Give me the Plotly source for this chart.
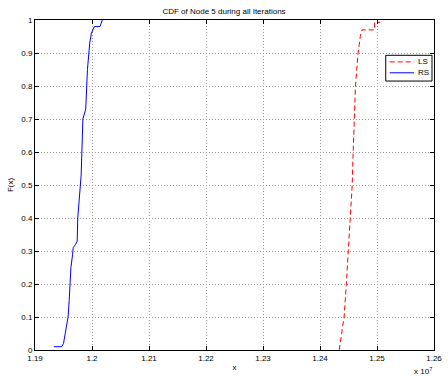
import plotly.graph_objects as go

# Data (x in units of 10^7)
rs_x = [1.1933, 1.1947, 1.1950, 1.1953, 1.1955, 1.1958, 1.1960, 1.1962, 1.1963, 1.1966,
        1.1967, 1.1971, 1.1974, 1.1975, 1.1977, 1.1978, 1.1981, 1.1984, 1.1989, 1.1992,
        1.1996, 1.1999, 1.2001, 1.2004, 1.2014, 1.2016, 1.2018]
rs_f = [0.01, 0.01, 0.02, 0.05, 0.07, 0.10, 0.15, 0.20, 0.25, 0.29,
        0.31, 0.32, 0.33, 0.40, 0.45, 0.47, 0.53, 0.70, 0.73, 0.85,
        0.93, 0.96, 0.97, 0.98, 0.98, 0.99, 1.00]

ls_x = [1.24337, 1.24423, 1.24462, 1.24497, 1.24536, 1.24565, 1.24582, 1.24604, 1.24622,
        1.24668, 1.24707, 1.24736, 1.24954, 1.2496, 1.25056]
ls_f = [0.00, 0.10, 0.20, 0.30, 0.40, 0.50, 0.60, 0.70, 0.80,
        0.90, 0.95, 0.97, 0.97, 0.993, 0.993]

series_names = ["LS", "RS"]
series_colors = ["#ff0000", "#0000ff"]
series_dashes = ["5px,3px", "solid"]

x_ticks = [1.19, 1.20, 1.21, 1.22, 1.23, 1.24, 1.25, 1.26]
x_tick_labels = ["1.19", "1.2", "1.21", "1.22", "1.23", "1.24", "1.25", "1.26"]
y_ticks = [0, 0.1, 0.2, 0.3, 0.4, 0.5, 0.6, 0.7, 0.8, 0.9, 1]
y_tick_labels = ["0", "0.1", "0.2", "0.3", "0.4", "0.5", "0.6", "0.7", "0.8", "0.9", "1"]

FONT = "Liberation Sans, Arial, Helvetica, sans-serif"

fig = go.Figure()
for name, xs, fs, col, dash in zip(series_names, [ls_x, rs_x], [ls_f, rs_f],
                                   series_colors, series_dashes):
    fig.add_trace(go.Scatter(x=xs, y=fs, mode="lines", name=name, showlegend=False,
                             line=dict(color=col, width=1, dash=dash)))

axis_common = dict(
    showline=True, linecolor="black", linewidth=1, mirror="ticks",
    ticks="inside", ticklen=4, tickcolor="black", tickwidth=1,
    showgrid=True, gridcolor="#999999", griddash="1px,2px", gridwidth=1,
    zeroline=False, tickfont=dict(family=FONT, size=8, color="black"),
)

fig.update_layout(
    width=448, height=376,
    margin=dict(l=35, r=6, t=20, b=25),
    paper_bgcolor="white", plot_bgcolor="white",
    title=dict(text="CDF of Node 5 during all Iterations", x=0.5, xanchor="center",
               y=1 - 11 / 376, yanchor="middle",
               font=dict(family=FONT, size=8, color="black")),
    xaxis=dict(range=[1.19, 1.26], tickvals=x_ticks, ticktext=x_tick_labels,
               ticklabeloverflow="allow",
               title=dict(text="x", font=dict(family=FONT, size=8, color="black"), standoff=2),
               **axis_common),
    yaxis=dict(range=[0, 1], tickvals=y_ticks, ticktext=y_tick_labels,
               title=dict(text="F(x)", font=dict(family=FONT, size=8, color="black"), standoff=6),
               **axis_common),
    showlegend=False,
)

# Compact legend box (MATLAB style)
box_x0, box_x1, box_y0, box_y1 = 0.879, 0.995, 0.815, 0.893
fig.add_shape(type="rect", xref="paper", yref="paper", x0=box_x0, x1=box_x1,
              y0=box_y0, y1=box_y1, line=dict(color="black", width=1), fillcolor="white")
for name, col, dash, yy in zip(series_names, series_colors, series_dashes, [0.873, 0.840]):
    fig.add_shape(type="line", xref="paper", yref="paper", x0=0.889, x1=0.950, y0=yy, y1=yy,
                  line=dict(color=col, width=1, dash=dash))
    fig.add_annotation(text=name, xref="paper", yref="paper", x=0.954, y=yy,
                       xanchor="left", yanchor="middle", showarrow=False,
                       font=dict(family=FONT, size=8, color="black"))

fig.add_annotation(text="x 10<sup>7</sup>", xref="paper", yref="paper",
                   x=1.0, y=-0.063, xanchor="right", yanchor="middle", showarrow=False,
                   font=dict(family=FONT, size=8, color="black"))

fig.write_html("out.html", config={"displayModeBar": False},
               post_script="document.body.style.margin='0';document.body.style.padding='0';")
